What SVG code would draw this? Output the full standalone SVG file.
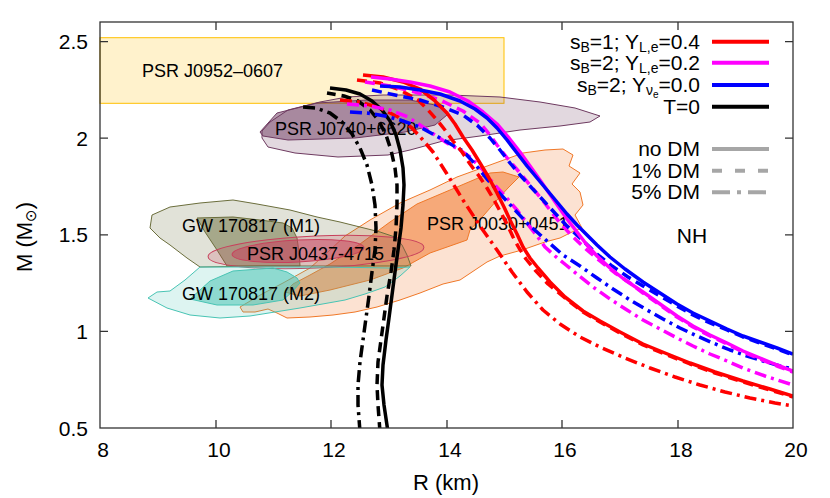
<svg xmlns="http://www.w3.org/2000/svg" width="830" height="498" viewBox="0 0 830 498">
<defs>
<style>
text{font-family:"Liberation Sans",Arial,Helvetica,sans-serif;fill:#000}
.tick{font-size:21px}
.lab{font-size:18px}
.leg{font-size:21px}
.ax{font-size:22px}
.frame{fill:none;stroke:#333;stroke-width:1.3}
.tk{stroke:#333;stroke-width:1.3}
.c{fill:none;stroke-width:3.5;stroke-linejoin:round}
.d{stroke-dasharray:10 6}
.dd{stroke-dasharray:12 5 3 5}
.r{stroke:#ff0000}.m{stroke:#ff00ff}.b{stroke:#0000ff}.k{stroke:#000}
.g{stroke:#a6a6a6;stroke-width:4;fill:none}
.o740{stroke:#6e3a60;stroke-width:1;fill:#6e3a60}
.o030{stroke:#f07828;stroke-width:1;fill:#f07020}
.m1{stroke:#6b6e3c;stroke-width:1;fill:#6b6e3c}
.j437{stroke:#c8405c;stroke-width:1;fill:#c8405c}
.m2{stroke:#48c4b4;stroke-width:1;fill:#40c0b0}
</style>
<clipPath id="plot"><rect x="100" y="22" width="693" height="406"/></clipPath>
</defs>
<rect width="830" height="498" fill="#fff"/>

<g id="regions">
<g id="psr-j0952"><rect x="100" y="37.7" width="404" height="65.6" fill="#fff2cc" stroke="#ffc000" stroke-width="1"/></g>
<g id="psr-j0740">
<polygon class="o740" fill-opacity="0.2" points="262,131 270,122 288,110 320,102 347,97 383,95 450,95 500,97 540,102 575,108 600,116 590,122 560,126 520,130 480,136 443,141 410,150 388,155 338,157 295,153 268,147 262,138"/>
<polygon class="o740" fill-opacity="0.5" points="260,132 277,113 317,103 367,100 410,100 440,106 447,115 435,125 405,132 355,138 288,140 263,136"/>
</g>
<g id="psr-j0030">
<polygon class="o030" fill-opacity="0.2" points="243,312 240,307 262,294 283,283 310,268 330,250 345,236 370,220 400,203 430,190 457,177 490,165 523,153 545,150 563,149 573,155 569,166 580,173 572,184 580,192 583,205 575,215 582,228 572,232 560,238 545,242 522,250 500,256 487,262 472,272 460,280 443,284 420,293 400,300 377,307 355,312 333,315 310,317 287,318 277,313 268,309 255,312"/>
<polygon class="o030" fill-opacity="0.5" points="285,292 293,284 310,275 330,264 360,244 390,222 417,204 450,190 490,173 503,172 519,177 508,188 497,200 484,215 470,230 467,240 450,246 430,253 403,268 370,280 330,290 300,296"/>
</g>
<g id="gw-m1">
<polygon class="m1" fill-opacity="0.2" points="152,215 170,207 200,203 233,200 257,204 290,210 317,217 340,222 360,227 380,232 395,237 402,245 407,255 411,266 380,266 340,266 300,266 260,266 200,267 187,258 170,245 160,238 150,228"/>
<polygon class="m1" fill-opacity="0.5" points="197,218 233,217 260,220 283,223 292,228 297,238 299,252 300,266 260,266 227,266 217,250 205,232"/>
</g>
<g id="psr-j0437">
<ellipse class="j437" fill-opacity="0.2" cx="316" cy="252" rx="108" ry="16" transform="rotate(-2.5 316 252)"/>
<ellipse class="j437" fill-opacity="0.5" cx="298" cy="251" rx="66" ry="11" transform="rotate(-3 298 251)"/>
</g>
<g id="gw-m2">
<polygon class="m2" fill-opacity="0.18" points="148,298 157,292 170,291 185,280 200,267 260,267 330,267 390,268 410,267 400,276 385,287 365,294 345,300 300,308 250,316 220,318 190,315 167,308"/>
<polygon class="m2" fill-opacity="0.5" points="190,299 200,290 210,281 233,271 273,268 287,272 297,278 300,283 292,292 283,300 253,305 217,305"/>
</g>
</g>

<g id="region-labels">
<text class="lab" x="142" y="77">PSR J0952–0607</text>
<text class="lab" x="275" y="135">PSR J0740+6620</text>
<text class="lab" x="182" y="232">GW 170817 (M1)</text>
<text class="lab" x="247" y="260">PSR J0437-4715</text>
<text class="lab" x="182" y="300">GW 170817 (M2)</text>
<text class="lab" x="427" y="230">PSR J0030+0451</text>
<text class="leg" x="692" y="243" text-anchor="middle">NH</text>
</g>

<g id="connectors" clip-path="url(#plot)">
<polyline class="c k" points="388,432 384,405 382,385 383,365 386,340 389,318 392,295 395,272 398,250 401,228 403,205 404,185 403,168 400,150 396,135 390,121 382,110 372,101 360,94 346,90 330,88"/>
<polyline class="c k d" points="380,432 378,405 377,385 378,362 381,340 384,318 387,296 391,272 394,250 396,228 397,205 397,185 395,168 391,150 386,135 379,121 370,110 358,101 344,96 327,93"/>
<polyline class="c k dd" points="360,432 358,405 358,385 360,362 363,340 366,318 369,296 372,272 375,250 376,228 375,205 372,185 367,165 360,148 352,134 342,122 330,113 316,108 302,107"/>

<polyline class="c r dd" points="340,100 360,102 380,108 398,117 412,128 422,139 433,152 447,174 463,200 480,226 497,250 512,272 527,292 543,310 560,324 580,337 600,347 625,358 650,368 675,377 700,385 725,392 750,398 775,403 793,406"/>
<polyline class="c m dd" points="347,104 370,106 390,110 408,117 420,125 435,135 447,143 460,150 470,157 482,169 493,183 505,196 517,210 527,223 537,236 545,247 555,256 566,265 578,275 593,287 610,299 627,310 643,320 660,329 677,338 693,346 710,354 727,361 743,368 765,376 793,385"/>
<polyline class="c b dd" points="350,112 367,113 385,116 400,120 420,127 440,138 463,151 475,164 487,179 503,197 515,210 527,223 547,241 563,255 580,266 597,278 613,289 630,300 647,310 663,319 680,328 697,336 713,343 730,350 747,356 763,361 780,366 793,369"/>

<polyline class="c r d" points="357,80 380,83 400,90 418,100 428,110 437,120 445,130 453,141 462,152 470,164 479,176 487,188 494,200 500,211 507,224 513,237 519,248 526,259 535,270 548,284 565,298 583,312 600,322 620,333 643,345 665,354 690,364 715,373 743,382 770,390 793,397"/>
<polyline class="c m d" points="365,82 390,86 415,92 440,100 463,111 480,123 490,135 497,145 508,159 520,173 530,185 540,197 550,210 560,223 573,237 587,250 600,261 615,273 630,283 643,293 660,305 677,317 693,327 710,336 727,344 743,352 760,359 777,366 793,372"/>
<polyline class="c b d" points="372,90 395,95 420,100 440,106 463,115 478,126 490,138 500,150 510,163 520,175 530,186 542,199 553,211 566,225 580,238 597,254 612,266 628,277 643,286 660,296 677,306 693,315 710,323 727,330 743,337 760,343 777,349 793,355"/>

<polyline class="c r" points="363,75 383,77 403,82 420,89 434,100 447,113 455,124 463,137 472,150 480,163 489,178 497,193 504,207 510,220 517,234 523,247 530,258 538,268 550,282 565,297 583,311 600,321 620,332 643,344 665,353 690,363 715,372 743,381 770,389 793,396"/>
<polyline class="c m" points="371,77 390,79 410,82 430,86 450,92 468,101 483,112 497,124 509,138 520,152 530,166 540,180 549,193 558,206 567,219 577,232 587,245 597,256 610,268 625,280 643,292 660,304 677,316 693,326 710,335 727,343 743,351 760,358 777,365 793,371"/>
<polyline class="c b" points="380,86 400,87 420,90 440,94 460,101 475,109 487,118 497,128 507,140 517,153 527,166 537,178 547,190 557,202 567,214 577,225 587,235 597,245 610,257 625,269 643,282 660,293 677,304 693,313 710,321 727,329 743,336 760,342 777,348 793,354"/>
</g>

<g id="axes">
<rect class="frame" x="100" y="22" width="693" height="406"/>
<path class="tk" d="M216,428v-8M331,428v-8M447,428v-8M562,428v-8M678,428v-8M216,22v8M331,22v8M447,22v8M562,22v8M678,22v8M100,41.6h8M100,138.2h8M100,234.8h8M100,331.4h8M793,41.6h-8M793,138.2h-8M793,234.8h-8M793,331.4h-8"/>
<text class="tick" x="88" y="49" text-anchor="end">2.5</text>
<text class="tick" x="88" y="145.5" text-anchor="end">2</text>
<text class="tick" x="88" y="242" text-anchor="end">1.5</text>
<text class="tick" x="88" y="338.5" text-anchor="end">1</text>
<text class="tick" x="88" y="435.5" text-anchor="end">0.5</text>
<text class="tick" x="103" y="457" text-anchor="middle">8</text>
<text class="tick" x="219" y="457" text-anchor="middle">10</text>
<text class="tick" x="334" y="457" text-anchor="middle">12</text>
<text class="tick" x="450" y="457" text-anchor="middle">14</text>
<text class="tick" x="565" y="457" text-anchor="middle">16</text>
<text class="tick" x="681" y="457" text-anchor="middle">18</text>
<text class="tick" x="796" y="457" text-anchor="middle">20</text>
<text class="ax" x="446" y="490" text-anchor="middle">R (km)</text>
<text class="ax" transform="translate(32,237) rotate(-90)" text-anchor="middle">M (M<tspan font-size="15" dy="4" font-family="DejaVu Sans">⊙</tspan><tspan dy="-4">)</tspan></text>
</g>

<g id="legend">
<text class="leg" x="700" y="48.5" text-anchor="end">s<tspan font-size="14" dy="3">B</tspan><tspan dy="-3">=1; Y</tspan><tspan font-size="14" dy="3">L,e</tspan><tspan dy="-3">=0.4</tspan></text>
<text class="leg" x="700" y="69.5" text-anchor="end">s<tspan font-size="14" dy="3">B</tspan><tspan dy="-3">=2; Y</tspan><tspan font-size="14" dy="3">L,e</tspan><tspan dy="-3">=0.2</tspan></text>
<text class="leg" x="700" y="91.5" text-anchor="end">s<tspan font-size="14" dy="3">B</tspan><tspan dy="-3">=2; Y</tspan><tspan font-size="14" dy="3">ν</tspan><tspan font-size="10" dy="3">e</tspan><tspan dy="-6">=0.0</tspan></text>
<text class="leg" x="700" y="113.5" text-anchor="end">T=0</text>
<text class="leg" x="700" y="156" text-anchor="end">no DM</text>
<text class="leg" x="700" y="177.5" text-anchor="end">1% DM</text>
<text class="leg" x="700" y="199" text-anchor="end">5% DM</text>
<path d="M712,41.7h57" stroke="#ff0000" stroke-width="4"/>
<path d="M712,62.7h57" stroke="#ff00ff" stroke-width="4"/>
<path d="M712,85h57" stroke="#0000ff" stroke-width="4"/>
<path d="M712,106.7h57" stroke="#000" stroke-width="4"/>
<path class="g" d="M712,149h57"/>
<path class="g" d="M712,170.7h57" stroke-dasharray="10 13"/>
<path class="g" d="M712,192.3h57" stroke-dasharray="18 7 4 7"/>
</g>
</svg>
